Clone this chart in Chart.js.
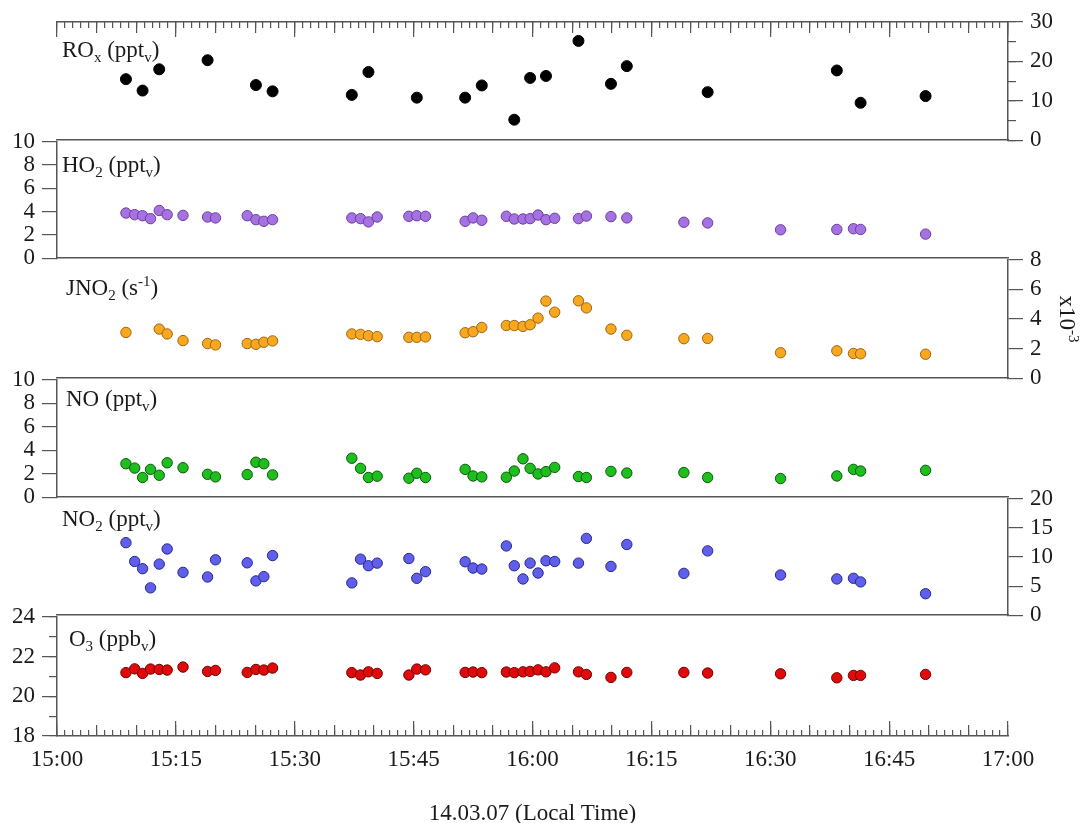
<!DOCTYPE html>
<html>
<head>
<meta charset="utf-8">
<title>ROx, HO2, JNO2, NO, NO2, O3 - 14.03.07</title>
<style>
  html, body { margin: 0; padding: 0; background: #fff; }
  #wrap { position: relative; width: 1086px; height: 823px; overflow: hidden; }
  #wrap canvas { position: absolute; left: 0; }
</style>
</head>
<body>
<div id="wrap"></div>
<script src="https://cdn.jsdelivr.net/npm/chart.js@4.4.1/dist/chart.umd.min.js"></script>
<script>
// sample times, minutes after 15:00
const times = [8.7, 9.8, 10.8, 11.8, 12.9, 13.9, 15.9, 19.0, 20.0, 24.0, 25.1, 26.1, 27.2,
  37.2, 38.3, 39.3, 40.4, 44.4, 45.4, 46.5, 51.5, 52.5, 53.6, 56.7, 57.7, 58.8, 59.7,
  60.7, 61.7, 62.8, 65.8, 66.8, 69.9, 71.9, 79.1, 82.1, 91.3, 98.4, 100.5, 101.4, 109.6];

const timeLabels = ['15:00', '15:15', '15:30', '15:45', '16:00', '16:15', '16:30', '16:45', '17:00'];
const axisTitle = '14.03.07 (Local Time)';

// one value per sample time, null = no measurement
const roxValues = [15.5, null, 12.6, null, 18.0, null, null, 20.3, null, null, 14.0, null, 12.4,
  11.5, null, 17.3, null, null, 10.8, null, 10.8, null, 13.9, null, 5.2, null, 15.8,
  null, 16.3, null, 25.2, null, 14.3, 18.8, null, 12.2, null, 17.7, null, 9.5, 11.2];
const ho2Values = [3.88, 3.74, 3.65, 3.40, 4.10, 3.74, 3.68, 3.54, 3.46, 3.65, 3.31, 3.17, 3.31,
  3.46, 3.40, 3.12, 3.54, 3.60, 3.65, 3.60, 3.17, 3.46, 3.26, 3.60, 3.37, 3.37, 3.40,
  3.71, 3.31, 3.43, 3.40, 3.62, 3.57, 3.46, 3.09, 3.03, 2.44, 2.47, 2.53, 2.47, 2.07];
// JNO2 in units of 1e-3 s-1
const jno2Values = [3.09, null, null, null, 3.32, 2.99, 2.54, 2.34, 2.25, 2.34, 2.29, 2.43, 2.52,
  2.99, 2.96, 2.87, 2.81, 2.76, 2.76, 2.79, 3.07, 3.14, 3.43, 3.56, 3.56, 3.50, 3.61,
  4.06, 5.21, 4.46, 5.23, 4.75, 3.32, 2.90, 2.67, 2.69, 1.72, 1.85, 1.67, 1.65, 1.62];
const noValues = [2.85, 2.48, 1.68, 2.37, 1.87, 2.93, 2.51, 1.95, 1.73, 1.93, 2.98, 2.85, 1.90,
  3.32, 2.46, 1.68, 1.79, 1.62, 2.04, 1.68, 2.37, 1.81, 1.73, 1.70, 2.23, 3.27, 2.46,
  1.98, 2.18, 2.54, 1.76, 1.68, 2.20, 2.06, 2.10, 1.68, 1.59, 1.81, 2.37, 2.23, 2.29];
const no2Values = [12.46, 9.23, 7.99, 4.70, 8.78, 11.38, 7.36, 6.57, 9.52, 9.00, 5.89, 6.63, 10.25,
  5.55, 9.63, 8.50, 8.95, 9.74, 6.34, 7.48, 9.18, 8.10, 7.93, 11.90, 8.50, 6.23, 8.95,
  7.25, 9.35, 9.23, 8.95, 13.2, 8.38, 12.15, 7.19, 11.05, 6.91, 6.23, 6.34, 5.72, 3.69];
const o3Values = [21.19, 21.38, 21.15, 21.37, 21.35, 21.32, 21.47, 21.25, 21.30, 21.20, 21.35, 21.32, 21.42,
  21.19, 21.07, 21.23, 21.15, 21.07, 21.37, 21.33, 21.20, 21.22, 21.19, 21.22, 21.19, 21.23, 21.25,
  21.33, 21.23, 21.43, 21.23, 21.10, 20.95, 21.20, 21.20, 21.17, 21.13, 20.93, 21.05, 21.05, 21.10];

const FONT = '"Liberation Serif", "Times New Roman", serif';
Chart.defaults.font.family = FONT;
Chart.defaults.font.size = 23;
Chart.defaults.color = '#1a1a1a';

const INK = '#1a1a1a';
const AXIS = '#555';
const PLOT_L = 57, PLOT_R = 1008, PAGE_W = 1086;
const edges = [22, 141, 259, 379, 498, 616, 736]; // panel borders, top to bottom

const panels = [
  { values: roxValues, side: 'right', min: 0, max: 30, step: 10, minor: 5, fill: '#000', stroke: '#000', radius: 5.5,
    label: [['RO'], ['x', 'sub'], [' (ppt'], ['v', 'sub'], [')']], labelAt: [5, 35], topAxis: true },
  { values: ho2Values, side: 'left', min: 0, max: 10, step: 2, fill: '#a573e1', stroke: '#6e3ca0',
    label: [['HO'], ['2', 'sub'], [' (ppt'], ['v', 'sub'], [')']], labelAt: [5, 30] },
  { values: jno2Values, side: 'right', min: 0, max: 8, step: 2, fill: '#f7a81e', stroke: '#a06414',
    label: [['JNO'], ['2', 'sub'], [' (s'], ['-1', 'sup'], [')']], labelAt: [9, 35],
    unit: [['x10'], ['-3', 'sup']] },
  { values: noValues, side: 'left', min: 0, max: 10, step: 2, fill: '#1ebe1e', stroke: '#0a5a0a',
    label: [['NO (ppt'], ['v', 'sub'], [')']], labelAt: [9, 26] },
  { values: no2Values, side: 'right', min: 0, max: 20, step: 5, fill: '#5f5feb', stroke: '#28288c',
    label: [['NO'], ['2', 'sub'], [' (ppt'], ['v', 'sub'], [')']], labelAt: [5, 27] },
  { values: o3Values, side: 'left', min: 18, max: 24, step: 2, minor: 1, fill: '#e10a0a', stroke: '#6e0000',
    label: [['O'], ['3', 'sub'], [' (ppb'], ['v', 'sub'], [')']], labelAt: [12, 29], bottomAxis: true }
];

function points(vals) {
  const out = [];
  vals.forEach((v, i) => { if (v !== null) out.push({ x: times[i], y: v }); });
  return out;
}

// text with sub/superscripts, drawn left to right from (x, y) baseline
function drawRich(ctx, parts, x, y) {
  parts.forEach(([t, kind]) => {
    ctx.font = (kind ? 15 : 23) + 'px ' + FONT;
    const dy = kind === 'sub' ? 5 : kind === 'sup' ? -9 : 0;
    ctx.fillText(t, x, y + dy);
    x += ctx.measureText(t).width;
  });
}
function richWidth(ctx, parts) {
  let w = 0;
  parts.forEach(([t, kind]) => {
    ctx.font = (kind ? 15 : 23) + 'px ' + FONT;
    w += ctx.measureText(t).width;
  });
  return w;
}

const panelLabel = {
  id: 'panelLabel',
  afterDraw(chart, args, opts) {
    const ctx = chart.ctx;
    const area = chart.chartArea;
    ctx.save();
    ctx.fillStyle = INK;
    ctx.textBaseline = 'alphabetic';
    drawRich(ctx, opts.parts, area.left + opts.at[0], area.top + opts.at[1]);
    if (opts.unit) {
      ctx.translate(1067, (area.top + area.bottom) / 2);
      ctx.rotate(Math.PI / 2);
      const w = richWidth(ctx, opts.unit);
      drawRich(ctx, opts.unit, -w / 2, 7);
    }
    ctx.restore();
  }
};

// extra axis used only for its tick marks (negative length = ticks point into the plot)
function tickAxis(position, step, len, border) {
  return {
    type: 'linear', position: position, min: 0, max: 120, weight: 0,
    ticks: { display: false, stepSize: step, maxTicksLimit: 500 },
    grid: { drawOnChartArea: false, tickLength: len, color: AXIS, tickColor: AXIS, lineWidth: 1.2 },
    border: { display: !!border, color: AXIS, width: 1.5 },
    afterFit: s => { s.height = 0; }
  };
}

const wrap = document.getElementById('wrap');

panels.forEach((p, i) => {
  const top = edges[i], bottom = edges[i + 1];
  const padTop = i === 0 ? top : 20;
  const below = p.bottomAxis ? 92 : 20;
  const canvas = document.createElement('canvas');
  canvas.width = PAGE_W;
  canvas.height = padTop + (bottom - top) + below;
  canvas.style.top = (top - padTop) + 'px';
  wrap.appendChild(canvas);

  const left = p.side === 'left';
  const sideW = left ? PLOT_L : PAGE_W - PLOT_R;

  const scales = {
    x: {
      type: 'linear', position: 'bottom', min: 0, max: 120, weight: 0,
      ticks: { display: false }, grid: { display: false },
      border: { color: AXIS, width: 1.5 },
      afterFit: s => { s.height = 0; }
    },
    y: {
      type: 'linear', position: p.side, min: p.min, max: p.max, weight: 1,
      ticks: { stepSize: p.step, autoSkip: false, padding: 7, color: INK, font: { size: 23 } },
      grid: { drawOnChartArea: false, tickLength: 15, color: AXIS, tickColor: AXIS, lineWidth: 1.2 },
      border: { color: AXIS, width: 1.5 },
      afterFit: s => { s.width = sideW; }
    }
  };
  if (p.minor) {
    scales.yMinor = {
      type: 'linear', position: p.side, min: p.min, max: p.max, weight: 0,
      ticks: { display: false, stepSize: p.minor },
      grid: { drawOnChartArea: false, tickLength: 8, color: AXIS, tickColor: AXIS, lineWidth: 1.2 },
      border: { display: false },
      afterFit: s => { s.width = 0; }
    };
  }
  if (p.topAxis) {
    scales.xt1 = tickAxis('top', 1, -6);
    scales.xt5 = tickAxis('top', 5, -11);
    scales.xt15 = tickAxis('top', 15, -15, true);
  }
  if (p.bottomAxis) {
    scales.xb1 = tickAxis('bottom', 1, -6);
    scales.xb5 = tickAxis('bottom', 5, -11);
    scales.xb15 = tickAxis('bottom', 15, -15);
    scales.xLab = {
      type: 'linear', position: 'bottom', min: 0, max: 120, weight: 5,
      ticks: {
        stepSize: 15, autoSkip: false, maxRotation: 0, padding: 10, color: INK, font: { size: 23 },
        callback: v => timeLabels[Math.round(v / 15)]
      },
      grid: { drawOnChartArea: false, drawTicks: false },
      border: { display: false },
      title: { display: true, text: axisTitle, color: INK, font: { size: 23 }, padding: 0 },
      afterFit: s => { s.height = below; }
    };
  }

  new Chart(canvas, {
    type: 'scatter',
    data: {
      datasets: [{
        data: points(p.values),
        xAxisID: 'x', yAxisID: 'y',
        backgroundColor: p.fill,
        borderColor: p.stroke,
        borderWidth: 1,
        pointRadius: p.radius || 5.2,
        pointHoverRadius: p.radius || 5.2
      }]
    },
    options: {
      responsive: false,
      animation: false,
      events: [],
      layout: {
        padding: {
          top: padTop,
          bottom: p.bottomAxis ? 0 : 20,
          left: left ? 0 : PLOT_L,
          right: left ? PAGE_W - PLOT_R : 0
        }
      },
      plugins: {
        legend: { display: false },
        tooltip: { enabled: false },
        panelLabel: { parts: p.label, at: p.labelAt, unit: p.unit }
      },
      scales: scales
    },
    plugins: [panelLabel]
  });
});
</script>
</body>
</html>
